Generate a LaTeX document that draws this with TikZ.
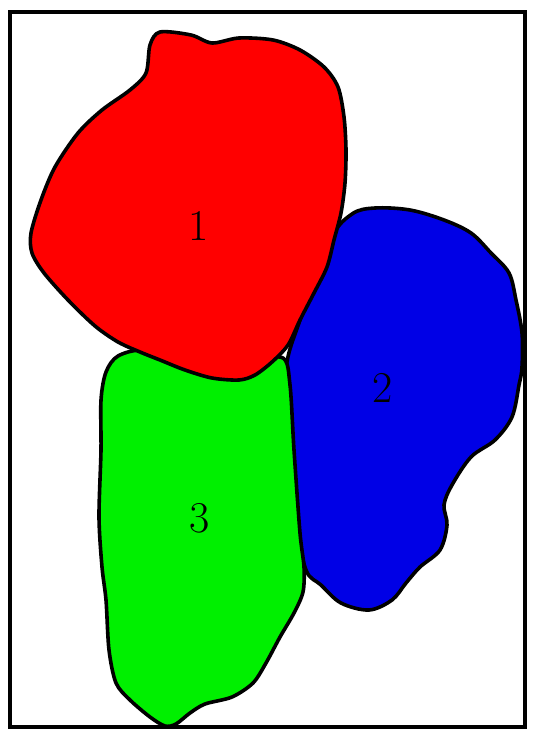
\documentclass[tikz,border=0pt]{standalone}
\begin{document}
\begin{tikzpicture}[x=1pt,y=-1pt,
  blob/.style={draw=black,line width=3.6pt,line join=round},
  lbl/.style={font=\fontsize{44}{44}\selectfont,text=black,inner sep=0pt}]
\useasboundingbox (0,0) rectangle (535,730);
\fill[white] (0,0) rectangle (535,730);
\draw[line width=4pt] (10,12) rectangle (525,727);
% blue region 2
\draw[blob,fill={rgb,255:red,0;green,0;blue,230}] plot[smooth cycle,tension=0.55] coordinates {
 (330,240) (352,214) (375,208) (410,210) (444,220) (471,233) (491,253) (509,273) (516,300) (522,333) (522,367) (519,385) (512,417) (495,440) (471,457) (452,485) (444,505) (447,525) (440,550) (420,567) (406,583) (392,600) (369,610) (341,603) (321,585) (306,570) (296,520) (290,440) (286,370) (300,320)};
% green region 3
\draw[blob,fill={rgb,255:red,0;green,240;blue,0}] plot[smooth cycle,tension=0.5] coordinates {
 (106,372) (118,356) (145,350) (200,360) (250,360) (283,358) (290,385) (294,450) (300,533) (304,567) (303,592) (294,613) (280,637) (266,663) (253,683) (232,697) (205,704) (190,713) (176,724) (165,726) (150,717) (130,700) (116,683) (109,650) (106,600) (102,567) (99,517) (101,450) (101,400)};
% red region 1
\draw[blob,fill={rgb,255:red,255;green,0;blue,0}] plot[smooth cycle,tension=0.5] coordinates {
 (160,32) (191,35) (212,43) (239,38) (273,40) (300,50) (324,67) (338,87) (344,117) (346,150) (345,183) (341,213) (334,240) (327,267) (314,293) (300,320) (288,345) (272,362) (255,375) (239,380) (212,378) (185,370) (160,360) (140,352) (118,342) (95,326) (68,300) (44,273) (32,253) (31,233) (41,200) (55,167) (78,133) (102,110) (130,90) (146,73) (150,45)};
\node[lbl] (n1) at (199,226) {1};
\node[lbl] (n2) at (383,388) {2};
\node[lbl] (n3) at (200,518) {3};
\end{tikzpicture}
\end{document}
